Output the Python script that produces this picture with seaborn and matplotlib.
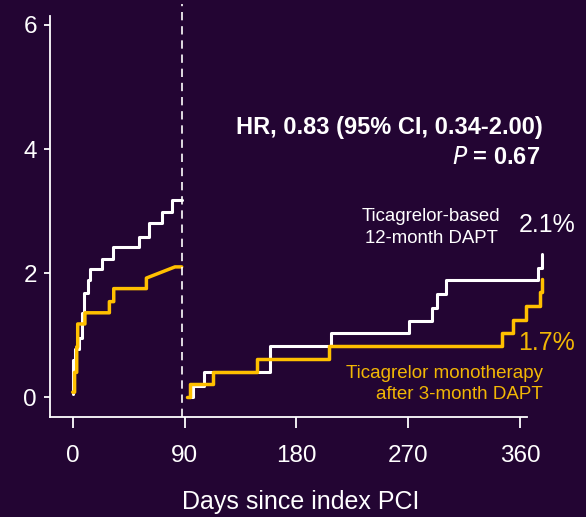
import numpy as np
import pandas as pd
import matplotlib.pyplot as plt
import seaborn as sns

# cumulative incidence (%), step times in days
dapt_early_t = [0, 0.5, 1.8, 5.3, 7.2, 9.3, 12.1, 13.9, 23.3, 32.2, 53.6, 61.7, 71.6, 79.7]
dapt_early_y = [0.05, 0.6, 0.78, 0.95, 1.35, 1.68, 1.89, 2.06, 2.22, 2.42, 2.58, 2.8, 2.99, 3.18]
mono_early_t = [0, 1.5, 3.2, 4.0, 9.8, 29.5, 33.0, 59.3, 82.3]
mono_early_y = [0.08, 0.4, 0.81, 1.18, 1.36, 1.54, 1.75, 1.92, 2.1]
mono_early_linear = [False] * 8 + [True]   # last rise is a ramp, not a step
early_end = 87.7

dapt_late_t = [93.0, 96.6, 105.7, 158.8, 207.6, 270.7, 288.9, 293.0, 300.4, 374.7, 377.5]
dapt_late_y = [0, 0.18, 0.41, 0.82, 1.04, 1.23, 1.43, 1.67, 1.89, 2.08, 2.31]
mono_late_t = [91.8, 94.4, 112.7, 148.3, 206.0, 345.3, 354.1, 364.6, 376.0, 377.5]
mono_late_y = [0, 0.21, 0.41, 0.62, 0.83, 1.04, 1.25, 1.47, 1.7, 1.9]
late_end = 377.5

landmark_day = 87.7
x_ticks = [0, 90, 180, 270, 360]
y_ticks = [0, 2, 4, 6]

BG = '#230533'
WHITE = '#ffffff'
GOLD = '#ffc000'
GOLD_TXT = '#f2b705'


def km_path(t, y, end, linear=None):
    xs, ys = [], []
    for i in range(len(t)):
        if i > 0 and not (linear and linear[i]):
            xs.append(t[i]); ys.append(y[i - 1])
        xs.append(t[i]); ys.append(y[i])
    xs.append(end); ys.append(y[-1])
    return xs, ys


sns.set_theme(style='ticks')
plt.rcParams['font.family'] = ['Liberation Sans', 'DejaVu Sans']

fig = plt.figure(figsize=(5.86, 5.17), dpi=100, facecolor=BG)
ax = fig.add_axes([50 / 586, 1 - 417 / 517, 501 / 586, 401 / 517])
ax.set_facecolor(BG)

curves = [
    (km_path(dapt_early_t, dapt_early_y, early_end), WHITE, 2.2),
    (km_path(dapt_late_t, dapt_late_y, late_end), WHITE, 2.2),
    (km_path(mono_early_t, mono_early_y, early_end, mono_early_linear), GOLD, 2.5),
    (km_path(mono_late_t, mono_late_y, late_end), GOLD, 2.5),
]
for (xs, ys), col, lw in curves:
    sns.lineplot(x=xs, y=ys, sort=False, estimator=None, color=col, linewidth=lw, ax=ax)

ax.axvline(landmark_day, ymin=0, ymax=1.03, color=WHITE, linewidth=1.2,
           dashes=(5, 3.5), clip_on=False)

ax.set_xlim(-18.3, 385)
ax.set_ylim(-0.32, 6.145)
ax.set_xticks(x_ticks)
ax.set_yticks(y_ticks)
for s in ['top', 'right']:
    ax.spines[s].set_visible(False)
ax.spines['bottom'].set_bounds(-18.3, 365.6)
for s in ['left', 'bottom']:
    ax.spines[s].set_color(WHITE)
    ax.spines[s].set_linewidth(1.3)
ax.tick_params(axis='x', colors=WHITE, length=8, width=1.3, pad=12, labelsize=17.5)
ax.tick_params(axis='y', colors=WHITE, length=4.5, width=1.3, pad=5, labelsize=17.5)
ax.set_xlabel('Days since index PCI', color=WHITE, fontsize=18, labelpad=17)
ax.set_ylabel('')

ax.text(378.5, 4.34, 'HR, 0.83 (95% CI, 0.34-2.00)', color=WHITE, fontsize=17,
        fontweight='bold', ha='right', va='center')
ax.text(376, 3.87, r'$\bf{\it{P}}$ = 0.67', color=WHITE, fontsize=17,
        fontweight='bold', ha='right', va='center')
ax.text(288.4, 2.74, 'Ticagrelor-based\n12-month DAPT', color=WHITE, fontsize=13.4,
        ha='center', va='center', multialignment='center', linespacing=1.4)
ax.text(382, 2.77, '2.1%', color=WHITE, fontsize=18, ha='center', va='center')
ax.text(381, 0.87, '1.7%', color=GOLD_TXT, fontsize=18, ha='center', va='center')
ax.text(378.5, 0.21, 'Ticagrelor monotherapy\nafter 3-month DAPT', color=GOLD_TXT,
        fontsize=13.5, ha='right', va='center', multialignment='right', linespacing=1.3)

fig.savefig('out.png', dpi=100, facecolor=BG)
